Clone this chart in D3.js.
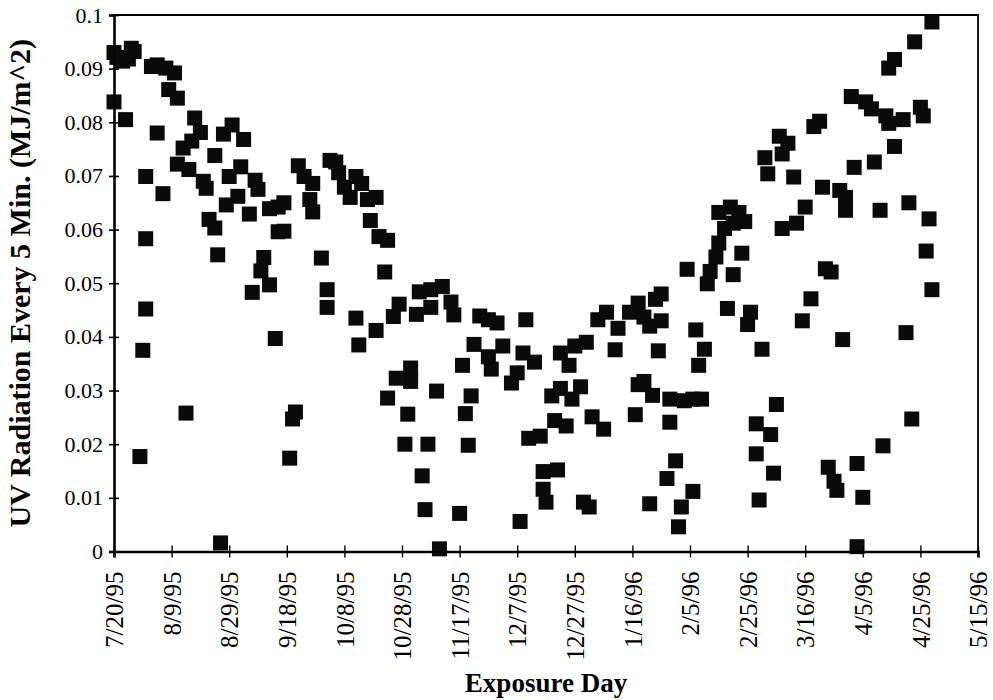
<!DOCTYPE html>
<html>
<head>
<meta charset="utf-8">
<script src="https://cdn.jsdelivr.net/npm/d3@7"></script>
<style>
  body { margin: 0; background: #fff; }
  text { font-family: "Liberation Serif", "Times New Roman", serif; fill: #000; }
</style>
</head>
<body>
<div id="chart"></div>
<script>
// data
var startDate = "7/20/95";
// days after the start date
var exposureDays = [
  0, 1, 3, 5, 6, 7, 0, 4, 11, 11, 11, 10, 9, 15, 17, 13, 15, 18, 21, 19, 22,
  28, 30, 27, 24, 22, 26, 25, 31, 32, 35, 33, 35, 36, 38, 41, 45, 40, 44, 39,
  43, 47, 49, 50, 37, 52, 51, 54, 48, 56, 54, 57, 57,
  59, 59, 61, 63, 62, 64, 66, 69, 68, 69, 72, 74, 74, 75, 77, 78, 80, 82, 84,
  86, 88, 91, 89, 92, 95, 94, 84, 85, 91, 97, 99, 105, 106, 110, 114, 110, 117,
  118, 98, 103, 103, 95, 102, 112, 101, 109, 107, 108, 120, 113,
  127, 130, 133, 143, 125, 121, 130, 131, 135, 138, 140, 142, 146, 124, 122, 123,
  141, 144, 148, 153, 157, 152, 155, 159, 162, 155, 158, 160, 164, 166, 170, 168,
  171, 175, 174, 149, 154, 149, 150, 163, 165,
  182, 184, 190, 188, 186, 190, 179, 189, 182, 184, 187, 181, 193, 198, 201, 204,
  193, 195, 192, 201, 197, 196, 186, 199, 202, 205, 203, 213, 206, 207, 209, 210,
  212, 210, 214, 217, 219, 215, 218, 215, 221, 220, 225, 230, 223, 228, 223, 229,
  224, 231, 234, 226, 232, 227, 236, 232, 237, 240, 239,
  243, 245, 256, 261, 263, 268, 269, 274, 280, 281, 284, 278, 271, 269, 271, 264,
  257, 246, 252, 254, 254, 266, 276, 283, 282, 284, 247, 249, 242, 253, 275, 277,
  267, 248, 250, 251, 258, 260, 258
];
// UV radiation every 5 min (MJ/m^2)
var uvValues = [
  0.0930, 0.0921, 0.0914, 0.0918, 0.0938, 0.0932, 0.0838, 0.0805, 0.0699, 0.0583,
  0.0452, 0.0375, 0.0177, 0.0780, 0.0667, 0.0904, 0.0907, 0.0901, 0.0892, 0.0861,
  0.0845, 0.0808, 0.0781, 0.0765, 0.0752, 0.0722, 0.0712, 0.0258, 0.0690, 0.0677,
  0.0738, 0.0619, 0.0603, 0.0553, 0.0778, 0.0795, 0.0768, 0.0699, 0.0717, 0.0646,
  0.0662, 0.0629, 0.0692, 0.0675, 0.0016, 0.0548, 0.0523, 0.0497, 0.0483, 0.0397,
  0.0639, 0.0642, 0.0596,
  0.0650, 0.0597, 0.0174, 0.0260, 0.0247, 0.0719, 0.0699, 0.0686, 0.0656, 0.0633,
  0.0547, 0.0488, 0.0455, 0.0729, 0.0726, 0.0706, 0.0679, 0.0660, 0.0699, 0.0686,
  0.0656, 0.0660, 0.0617, 0.0587, 0.0580, 0.0521, 0.0435, 0.0385, 0.0412, 0.0438,
  0.0461, 0.0442, 0.0484, 0.0488, 0.0494, 0.0455, 0.0465, 0.0441, 0.0323, 0.0342,
  0.0317, 0.0286, 0.0256, 0.0299, 0.0200, 0.0200, 0.0141, 0.0078, 0.0071, 0.0005,
  0.0439, 0.0432, 0.0426, 0.0432, 0.0386, 0.0347, 0.0363, 0.0340, 0.0383, 0.0314,
  0.0333, 0.0370, 0.0353, 0.0290, 0.0257, 0.0198, 0.0056, 0.0211, 0.0215, 0.0244,
  0.0234, 0.0290, 0.0304, 0.0284, 0.0307, 0.0370, 0.0347, 0.0383, 0.0390, 0.0251,
  0.0228, 0.0432, 0.0446, 0.0416, 0.0376, 0.0149, 0.0152, 0.0116, 0.0092, 0.0092,
  0.0083,
  0.0463, 0.0437, 0.0480, 0.0470, 0.0420, 0.0430, 0.0446, 0.0374, 0.0311, 0.0317,
  0.0291, 0.0255, 0.0284, 0.0281, 0.0284, 0.0284, 0.0241, 0.0169, 0.0136, 0.0112,
  0.0083, 0.0046, 0.0089, 0.0526, 0.0413, 0.0377, 0.0347, 0.0453, 0.0499, 0.0522,
  0.0549, 0.0575, 0.0602, 0.0632, 0.0642, 0.0632, 0.0615, 0.0612, 0.0556, 0.0516,
  0.0446, 0.0423, 0.0377, 0.0274, 0.0238, 0.0218, 0.0182, 0.0146, 0.0096, 0.0774,
  0.0761, 0.0734, 0.0741, 0.0704, 0.0698, 0.0602, 0.0612, 0.0642, 0.0430,
  0.0792, 0.0802, 0.0848, 0.0838, 0.0825, 0.0812, 0.0798, 0.0805, 0.0828, 0.0812,
  0.0987, 0.0950, 0.0917, 0.0901, 0.0755, 0.0726, 0.0716, 0.0679, 0.0673, 0.0660,
  0.0636, 0.0636, 0.0650, 0.0620, 0.0560, 0.0488, 0.0527, 0.0521, 0.0471, 0.0395,
  0.0408, 0.0247, 0.0197, 0.0157, 0.0131, 0.0114, 0.0164, 0.0101, 0.0009
];
var xTickLabels = ["7/20/95", "8/9/95", "8/29/95", "9/18/95", "10/8/95", "10/28/95",
  "11/17/95", "12/7/95", "12/27/95", "1/16/96", "2/5/96", "2/25/96", "3/16/96",
  "4/5/96", "4/25/96", "5/15/96"];
var yTicks = [0, 0.01, 0.02, 0.03, 0.04, 0.05, 0.06, 0.07, 0.08, 0.09, 0.1];

createChart();

function createChart() {
    var width = 993, height = 700;
    var left = 114, right = 978, top = 15, bottom = 551.5;
    var parse = d3.timeParse("%m/%d/%y");
    var start = parse(startDate);
    var tickDates = xTickLabels.map(function (s) { return parse(s); });

    var x = d3.scaleTime()
        .domain([start, tickDates[tickDates.length - 1]])
        .range([left, right]);
    var y = d3.scaleLinear().domain([0, 0.1]).range([bottom, top]);

    var svg = d3.select("#chart").append("svg")
        .attr("width", width)
        .attr("height", height);

    // plot frame (top and right)
    svg.append("path")
        .attr("d", "M" + left + "," + top + "H" + right + "V" + bottom)
        .attr("fill", "none")
        .attr("stroke", "#000")
        .attr("stroke-width", 1.8);

    var points = exposureDays.map(function (d, i) {
        return { date: d3.timeDay.offset(start, d), value: uvValues[i] };
    });

    var size = 15;
    svg.append("g").selectAll("rect")
        .data(points)
        .enter().append("rect")
        .attr("x", function (d) { return x(d.date) - size / 2; })
        .attr("y", function (d) { return y(d.value) - size / 2; })
        .attr("width", size)
        .attr("height", size)
        .attr("fill", "#0a0a0a");

    // y axis
    var yAxis = svg.append("g")
        .attr("transform", "translate(" + left + ",0)")
        .call(d3.axisLeft(y).tickValues(yTicks).tickSize(5).tickPadding(6)
            .tickFormat(function (d) { return String(d); }));
    yAxis.select(".domain").attr("stroke-width", 2.6);
    yAxis.selectAll(".tick line").attr("x1", -5).attr("x2", 5).attr("stroke-width", 1.6);
    yAxis.selectAll(".tick text").attr("font-size", 22).attr("font-family", null);

    // x axis
    var xAxis = svg.append("g")
        .attr("transform", "translate(0," + bottom + ")")
        .call(d3.axisBottom(x).tickValues(tickDates).tickSize(6)
            .tickFormat(function (d, i) { return xTickLabels[i]; }));
    xAxis.select(".domain").attr("stroke-width", 2.6);
    xAxis.selectAll(".tick line").attr("y1", -6).attr("y2", 6).attr("stroke-width", 1.4);
    xAxis.selectAll(".tick text")
        .attr("font-size", 25)
        .attr("font-family", null)
        .attr("text-anchor", "end")
        .attr("transform", "rotate(-90)")
        .attr("x", -20)
        .attr("y", 0)
        .attr("dy", "0.35em");

    // axis titles
    svg.append("text")
        .attr("transform", "translate(30," + (top + bottom) / 2 + ") rotate(-90)")
        .attr("text-anchor", "middle")
        .attr("font-size", 30)
        .attr("font-weight", "bold")
        .text("UV Radiation Every 5 Min. (MJ/m^2)");

    svg.append("text")
        .attr("x", (left + right) / 2)
        .attr("y", 692)
        .attr("text-anchor", "middle")
        .attr("font-size", 27)
        .attr("font-weight", "bold")
        .text("Exposure Day");
}
</script>
</body>
</html>
